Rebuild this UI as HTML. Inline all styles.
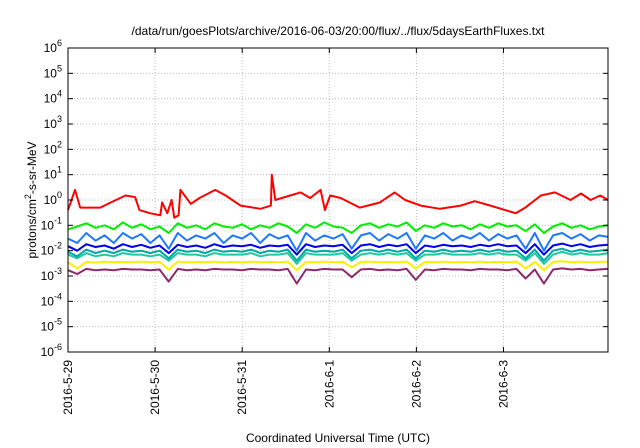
<!DOCTYPE html>
<html><head><meta charset="utf-8"><style>
body{margin:0;background:#fff}
svg{display:block;font-family:"Liberation Sans",sans-serif}
</style></head><body>
<svg id="chart" width="640" height="448">
<text x="338" y="35" font-size="12" text-anchor="middle">/data/run/goesPlots/archive/2016-06-03/20:00/flux/../flux/5daysEarthFluxes.txt</text>
<g id="grid"></g><g id="series"></g><g id="axes"></g>
<text transform="translate(36,200) rotate(-90)" font-size="12" text-anchor="middle">protons/cm<tspan dy="-5" font-size="9">2</tspan><tspan dy="5">-s-sr-MeV</tspan></text>
<text x="338" y="442" font-size="12" text-anchor="middle">Coordinated Universal Time (UTC)</text>
</svg>
<script>
const dayLabels=["2016-5-29","2016-5-30","2016-5-31","2016-6-1","2016-6-2","2016-6-3"];
const yExps=[-6,-5,-4,-3,-2,-1,0,1,2,3,4,5,6];
const redT=[0,.08,.14,.37,.49,.66,.77,.82,.94,1.06,1.08,1.14,1.19,1.22,1.27,1.29,1.41,1.51,1.69,1.81,1.98,2.21,2.33,2.34,2.38,2.55,2.67,2.78,2.9,2.95,3.01,3.13,3.35,3.58,3.75,3.87,4.05,4.27,4.51,4.67,4.85,5.02,5.14,5.25,5.43,5.59,5.77,5.89,6.0,6.11,6.2];
const redV=[0.4,2.5,0.5,0.5,0.8,1.5,1.3,0.4,0.3,0.25,0.8,0.3,1.0,0.2,0.25,2.5,0.7,1.2,2.5,1.5,0.6,0.45,0.6,10,1.0,1.5,2.0,1.2,2.5,0.4,1.5,1.2,0.5,0.8,2.0,1.0,0.6,0.45,0.6,0.9,0.6,0.4,0.3,0.5,1.5,2.0,1.0,1.8,1.0,1.5,1.0];
const green=[0.07,0.09,0.12,0.08,0.1,0.07,0.13,0.08,0.11,0.07,0.09,0.05,0.12,0.08,0.1,0.07,0.12,0.09,0.08,0.11,0.07,0.1,0.08,0.12,0.09,0.05,0.11,0.08,0.13,0.09,0.08,0.05,0.1,0.12,0.08,0.11,0.09,0.13,0.06,0.1,0.08,0.12,0.09,0.1,0.07,0.11,0.08,0.12,0.09,0.1,0.06,0.11,0.05,0.09,0.12,0.08,0.1,0.07,0.09,0.1];
const lightBlue=[0.03,0.02,0.05,0.025,0.04,0.02,0.05,0.03,0.045,0.02,0.04,0.012,0.05,0.025,0.04,0.03,0.05,0.02,0.04,0.03,0.05,0.02,0.045,0.03,0.04,0.01,0.05,0.025,0.04,0.03,0.045,0.012,0.04,0.05,0.025,0.045,0.03,0.05,0.012,0.04,0.03,0.05,0.025,0.04,0.03,0.05,0.025,0.045,0.03,0.04,0.012,0.05,0.01,0.04,0.05,0.03,0.045,0.025,0.04,0.035];
const blue=[0.015,0.01,0.018,0.014,0.016,0.012,0.018,0.014,0.017,0.013,0.016,0.008,0.017,0.014,0.016,0.013,0.018,0.014,0.016,0.015,0.017,0.013,0.016,0.015,0.017,0.007,0.018,0.014,0.016,0.015,0.017,0.008,0.016,0.018,0.014,0.017,0.015,0.018,0.008,0.016,0.014,0.017,0.015,0.016,0.014,0.017,0.015,0.018,0.015,0.016,0.008,0.018,0.007,0.016,0.019,0.015,0.018,0.014,0.016,0.017];
const teal=[0.009,0.006,0.011,0.008,0.01,0.008,0.011,0.009,0.01,0.008,0.01,0.005,0.011,0.009,0.01,0.008,0.011,0.009,0.01,0.009,0.011,0.008,0.01,0.009,0.011,0.004,0.011,0.009,0.01,0.009,0.011,0.005,0.01,0.011,0.009,0.011,0.009,0.011,0.005,0.01,0.009,0.011,0.009,0.01,0.009,0.011,0.009,0.011,0.009,0.01,0.005,0.011,0.004,0.01,0.012,0.009,0.011,0.009,0.01,0.011];
const seaGreen=[0.007,0.005,0.008,0.006,0.007,0.006,0.008,0.007,0.007,0.006,0.007,0.004,0.008,0.007,0.007,0.006,0.008,0.007,0.007,0.007,0.008,0.006,0.007,0.007,0.008,0.003,0.008,0.007,0.007,0.007,0.008,0.004,0.007,0.008,0.007,0.008,0.007,0.008,0.004,0.007,0.007,0.008,0.007,0.007,0.007,0.008,0.007,0.008,0.007,0.007,0.004,0.008,0.003,0.007,0.009,0.007,0.008,0.007,0.007,0.008];
const yellow=[0.0035,0.002,0.0036,0.0034,0.0037,0.0035,0.0036,0.0035,0.0037,0.0035,0.0036,0.0018,0.0037,0.0035,0.0036,0.0035,0.0037,0.0034,0.0036,0.0035,0.0037,0.0035,0.0036,0.0035,0.0037,0.0017,0.0036,0.0035,0.0037,0.0035,0.0036,0.0022,0.0036,0.0037,0.0035,0.0036,0.0035,0.0037,0.002,0.0036,0.0035,0.0037,0.0035,0.0036,0.0035,0.0037,0.0035,0.0036,0.0035,0.0037,0.002,0.0036,0.0017,0.0036,0.0038,0.0035,0.0037,0.0035,0.0036,0.0037];
const purple=[0.0017,0.0012,0.0019,0.0017,0.0018,0.0017,0.0019,0.0018,0.0018,0.0017,0.0018,0.0006,0.0019,0.0017,0.0018,0.0017,0.0019,0.0018,0.0018,0.0017,0.0019,0.0018,0.0018,0.0017,0.0019,0.0005,0.0018,0.0017,0.0019,0.0018,0.0018,0.0009,0.0018,0.0019,0.0017,0.0018,0.0017,0.0019,0.0007,0.0018,0.0017,0.0019,0.0018,0.0018,0.0017,0.0019,0.0018,0.0018,0.0017,0.0019,0.0008,0.0018,0.0005,0.0018,0.002,0.0018,0.0019,0.0017,0.0018,0.0019];
const L=68,R=608,T=48,B=352,DAYS=6.2;
const ns="http://www.w3.org/2000/svg";
const xs=t=>L+t/DAYS*(R-L);
const ys=v=>B-(Math.log10(v)+6)/12*(B-T);
function mk(tag,attrs,parent){const e=document.createElementNS(ns,tag);for(const k in attrs)e.setAttribute(k,attrs[k]);parent.appendChild(e);return e;}
const grid=document.getElementById('grid'),axes=document.getElementById('axes'),ser=document.getElementById('series');
yExps.forEach(e=>{const y=ys(Math.pow(10,e));
 if(e>-6&&e<6){const g=mk('line',{x1:L,x2:R,y1:y,y2:y,stroke:'#bbb','stroke-dasharray':'1,2'},grid);
 
 }
 mk('line',{x1:L,x2:L+5,y1:y,y2:y,stroke:'#000'},axes);mk('line',{x1:R,x2:R-5,y1:y,y2:y,stroke:'#000'},axes);
 const t=mk('text',{x:L-6,y:y+4,'font-size':12,'text-anchor':'end'},axes);
 
 
 t.innerHTML='10<tspan dy="-6" font-size="9">'+e+'</tspan>';});
dayLabels.forEach((d,i)=>{const x=xs(i);
 if(i>0){const g=mk('line',{x1:x,x2:x,y1:T,y2:B,stroke:'#bbb','stroke-dasharray':'1,2'},grid);
 
 }
 mk('line',{x1:x,x2:x,y1:B,y2:B-5,stroke:'#000'},axes);mk('line',{x1:x,x2:x,y1:T,y2:T+5,stroke:'#000'},axes);
 const t=mk('text',{transform:`translate(${x+4},${B+8}) rotate(-90)`,'font-size':12,'text-anchor':'end'},axes);
 
 
 t.textContent=d;});
const f=mk('rect',{x:L,y:T,width:R-L,height:B-T,fill:'none',stroke:'#000','stroke-width':1},axes);


function line(ts,vs,color,name){const p=mk('polyline',{points:vs.map((v,i)=>xs(ts[i]).toFixed(1)+','+ys(v).toFixed(1)).join(' '),fill:'none',stroke:color,'stroke-width':2,'stroke-linejoin':'round'},ser);
 
 }
const tt=green.map((_,i)=>i*DAYS/(green.length-1));
line(tt,purple,'#8b2a6b','series-purple');
line(tt,yellow,'#ffee00','series-yellow');
line(tt,seaGreen,'#20c8a0','series-seagreen');
line(tt,teal,'#00a8a8','series-teal');
line(tt,blue,'#0000ee','series-blue');
line(tt,lightBlue,'#1e78ff','series-lightblue');
line(tt,green,'#00ee00','series-green');
line(redT,redV,'#ff0000','series-red');
</script>
</body></html>
